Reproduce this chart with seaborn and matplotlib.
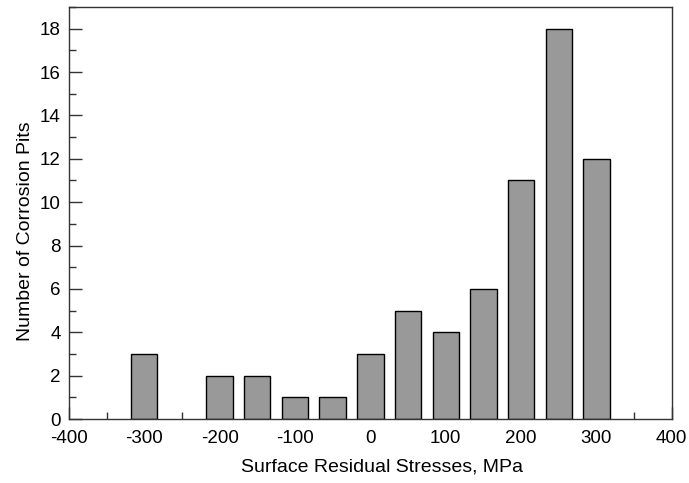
import numpy as np
import pandas as pd
import seaborn as sns
import matplotlib.pyplot as plt
from matplotlib.ticker import MultipleLocator

# 응력 구간별 부식 피트 수
stress = [-300, -200, -150, -100, -50, 0, 50, 100, 150, 200, 250, 300]
pits = [3, 2, 2, 1, 1, 3, 5, 4, 6, 11, 18, 12]

df = pd.DataFrame({'stress': stress, 'pits': pits})

sns.set_style("ticks")
plt.rcParams['font.family'] = ['Liberation Sans', 'DejaVu Sans']
plt.rcParams['axes.unicode_minus'] = False
plt.rcParams['text.color'] = 'black'
plt.rcParams['axes.labelcolor'] = 'black'
plt.rcParams['xtick.labelcolor'] = 'black'
plt.rcParams['ytick.labelcolor'] = 'black'

fig = plt.figure(figsize=(6.89, 4.83), dpi=100)
ax = fig.add_axes([0.1, 0.1325, 0.875, 0.853])

sns.barplot(data=df, x='stress', y='pits', native_scale=True, width=0.7,
            color='#999999', saturation=1, edgecolor='black', linewidth=1, ax=ax)

ax.set_xlim(-400, 400)
ax.set_ylim(0, 19)
ax.xaxis.set_major_locator(MultipleLocator(100))
ax.xaxis.set_minor_locator(MultipleLocator(50))
ax.yaxis.set_major_locator(MultipleLocator(2))
ax.yaxis.set_minor_locator(MultipleLocator(1))
ax.tick_params(which='both', direction='in', labelsize=13.5, color='#333333')
ax.tick_params(which='major', length=9, width=1)
ax.tick_params(axis='x', which='major', pad=8)
ax.tick_params(axis='y', which='major', pad=6)
ax.tick_params(which='minor', length=5, width=1)
for s in ax.spines.values():
    s.set_color('#333333')
    s.set_linewidth(1)

ax.set_xlabel('Surface Residual Stresses, MPa', fontsize=14, labelpad=8)
ax.set_ylabel('Number of Corrosion Pits', fontsize=14, labelpad=4)
ax.xaxis.label.set_x(0.52)
ax.yaxis.label.set_y(0.455)

fig.savefig('out.png', dpi=100)
